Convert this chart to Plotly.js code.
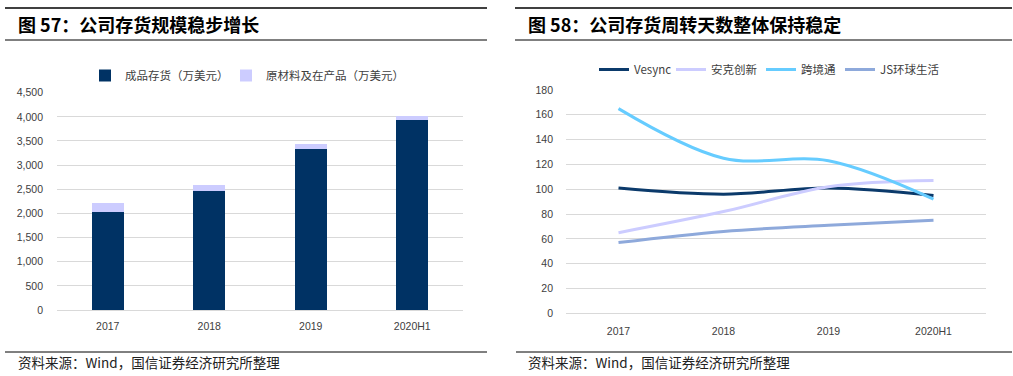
<!DOCTYPE html>
<html>
<head>
<meta charset="utf-8">
<script src="https://cdn.plot.ly/plotly-3.0.1.min.js"></script>
<style>
html,body{margin:0;padding:0;background:#fff;}
#chart{width:1013px;height:376px;}
</style>
</head>
<body>
<div id="chart"></div>
<script>
// ---- Data ----
const categories = ["2017", "2018", "2019", "2020H1"];
const finishedGoods = [2030, 2470, 3340, 3928];      // 成品存货（万美元）
const rawAndWip = [185, 118, 97, 90];                // 原材料及在产品（万美元）

const lineCategories = ["2017", "2018", "2019", "2020H1"];
const vesync = [101, 96, 101, 95];
const anker = [65, 82, 102, 107];
const kuajingtong = [165, 125, 123, 92];
const jsGlobal = [57, 66, 71, 75];

const title1 = "图 57：公司存货规模稳步增长";
const title2 = "图 58：公司存货周转天数整体保持稳定";
const sourceText = "资料来源：Wind，国信证券经济研究所整理";

// ---- Layout helpers ----
const W = 1013, H = 376;
const px = v => v / W;
const py = v => 1 - v / H;
const cjk = '"Noto Sans CJK SC", "Liberation Sans", sans-serif';
const tickFont = {family: '"Liberation Sans", Arial, sans-serif', size: 10.5, color: '#404040'};
const legFont = {family: cjk, size: 11.5, color: '#404040'};
const leg = (x, y) => ({orientation: 'h', x: px(x), y: py(y), xanchor: 'left', yanchor: 'top',
                        font: legFont, bgcolor: 'rgba(0,0,0,0)', itemwidth: 30});

const lineStyle = c => ({color: c, width: 3, shape: 'spline', smoothing: 1});

const traces = [
  {type: 'bar', x: categories, y: finishedGoods, name: '成品存货（万美元）',
   marker: {color: '#003264'}, width: 0.315, xaxis: 'x', yaxis: 'y', legend: 'legend'},
  {type: 'bar', x: categories, y: rawAndWip, name: '原材料及在产品（万美元）',
   marker: {color: '#CCCCFF'}, width: 0.315, xaxis: 'x', yaxis: 'y', legend: 'legend2'},
  {type: 'scatter', mode: 'lines', x: lineCategories, y: vesync, name: 'Vesync',
   line: lineStyle('#0B3A6B'), xaxis: 'x2', yaxis: 'y2', legend: 'legend3'},
  {type: 'scatter', mode: 'lines', x: lineCategories, y: anker, name: '安克创新',
   line: lineStyle('#CCCCFF'), xaxis: 'x2', yaxis: 'y2', legend: 'legend4'},
  {type: 'scatter', mode: 'lines', x: lineCategories, y: kuajingtong, name: '跨境通',
   line: lineStyle('#66CCFF'), xaxis: 'x2', yaxis: 'y2', legend: 'legend5'},
  {type: 'scatter', mode: 'lines', x: lineCategories, y: jsGlobal, name: 'JS环球生活',
   line: lineStyle('#8EA9DB'), xaxis: 'x2', yaxis: 'y2', legend: 'legend6'}
];

const layout = {
  width: W, height: H,
  margin: {l: 0, r: 0, t: 0, b: 0},
  paper_bgcolor: '#fff', plot_bgcolor: '#fff',
  barmode: 'stack',
  showlegend: true,
  xaxis: {domain: [px(57), px(463)], type: 'category', tickfont: tickFont, showgrid: false,
          showline: true, linecolor: '#d9d9d9', ticks: '', ticklabelstandoff: 6, fixedrange: true},
  yaxis: {domain: [py(310), py(92.7)], range: [0, 4500], dtick: 500, tickformat: ',',
          tickfont: tickFont, gridcolor: '#d9d9d9', zeroline: false, ticks: '', ticklabelstandoff: 13, fixedrange: true},
  xaxis2: {domain: [px(566), px(986)], type: 'category', range: [-0.5, 3.5], tickfont: tickFont, showgrid: false,
           showline: true, linecolor: '#d9d9d9', ticks: '', ticklabelstandoff: 8, anchor: 'y2', fixedrange: true},
  yaxis2: {domain: [py(313.3), py(90)], range: [0, 180], dtick: 20, anchor: 'x2',
           tickfont: tickFont, gridcolor: '#d9d9d9', zeroline: false, ticks: '', ticklabelstandoff: 12, fixedrange: true},
  legend: leg(85, 61),
  legend2: leg(226, 61),
  legend3: leg(594, 55),
  legend4: leg(671, 55),
  legend5: leg(761, 55),
  legend6: leg(840, 55),
  annotations: [
    {text: '<b>' + title1 + '</b>', x: px(16), y: py(24), xref: 'paper', yref: 'paper', xanchor: 'left', yanchor: 'middle',
     showarrow: false, font: {family: cjk, size: 18, color: '#000'}},
    {text: '<b>' + title2 + '</b>', x: px(526), y: py(24), xref: 'paper', yref: 'paper', xanchor: 'left', yanchor: 'middle',
     showarrow: false, font: {family: cjk, size: 18, color: '#000'}},
    {text: sourceText, x: px(16), y: py(362), xref: 'paper', yref: 'paper', xanchor: 'left', yanchor: 'middle',
     showarrow: false, font: {family: cjk, size: 13.5, color: '#222'}},
    {text: sourceText, x: px(526), y: py(362), xref: 'paper', yref: 'paper', xanchor: 'left', yanchor: 'middle',
     showarrow: false, font: {family: cjk, size: 13.5, color: '#222'}}
  ],
  shapes: [
    {type: 'line', xref: 'paper', yref: 'paper', x0: px(5), x1: px(487), y0: py(8), y1: py(8), line: {color: '#000', width: 1.5}},
    {type: 'line', xref: 'paper', yref: 'paper', x0: px(5), x1: px(487), y0: py(40), y1: py(40), line: {color: '#000', width: 1}},
    {type: 'line', xref: 'paper', yref: 'paper', x0: px(515), x1: px(1012), y0: py(8), y1: py(8), line: {color: '#000', width: 1.5}},
    {type: 'line', xref: 'paper', yref: 'paper', x0: px(515), x1: px(1012), y0: py(40), y1: py(40), line: {color: '#000', width: 1}},
    {type: 'line', xref: 'paper', yref: 'paper', x0: px(5), x1: px(487), y0: py(352), y1: py(352), line: {color: '#000', width: 1}},
    {type: 'line', xref: 'paper', yref: 'paper', x0: px(516), x1: px(1012), y0: py(352), y1: py(352), line: {color: '#000', width: 1}}
  ]
};

Plotly.newPlot('chart', traces, layout, {displayModeBar: false, staticPlot: true});
</script>
</body>
</html>
